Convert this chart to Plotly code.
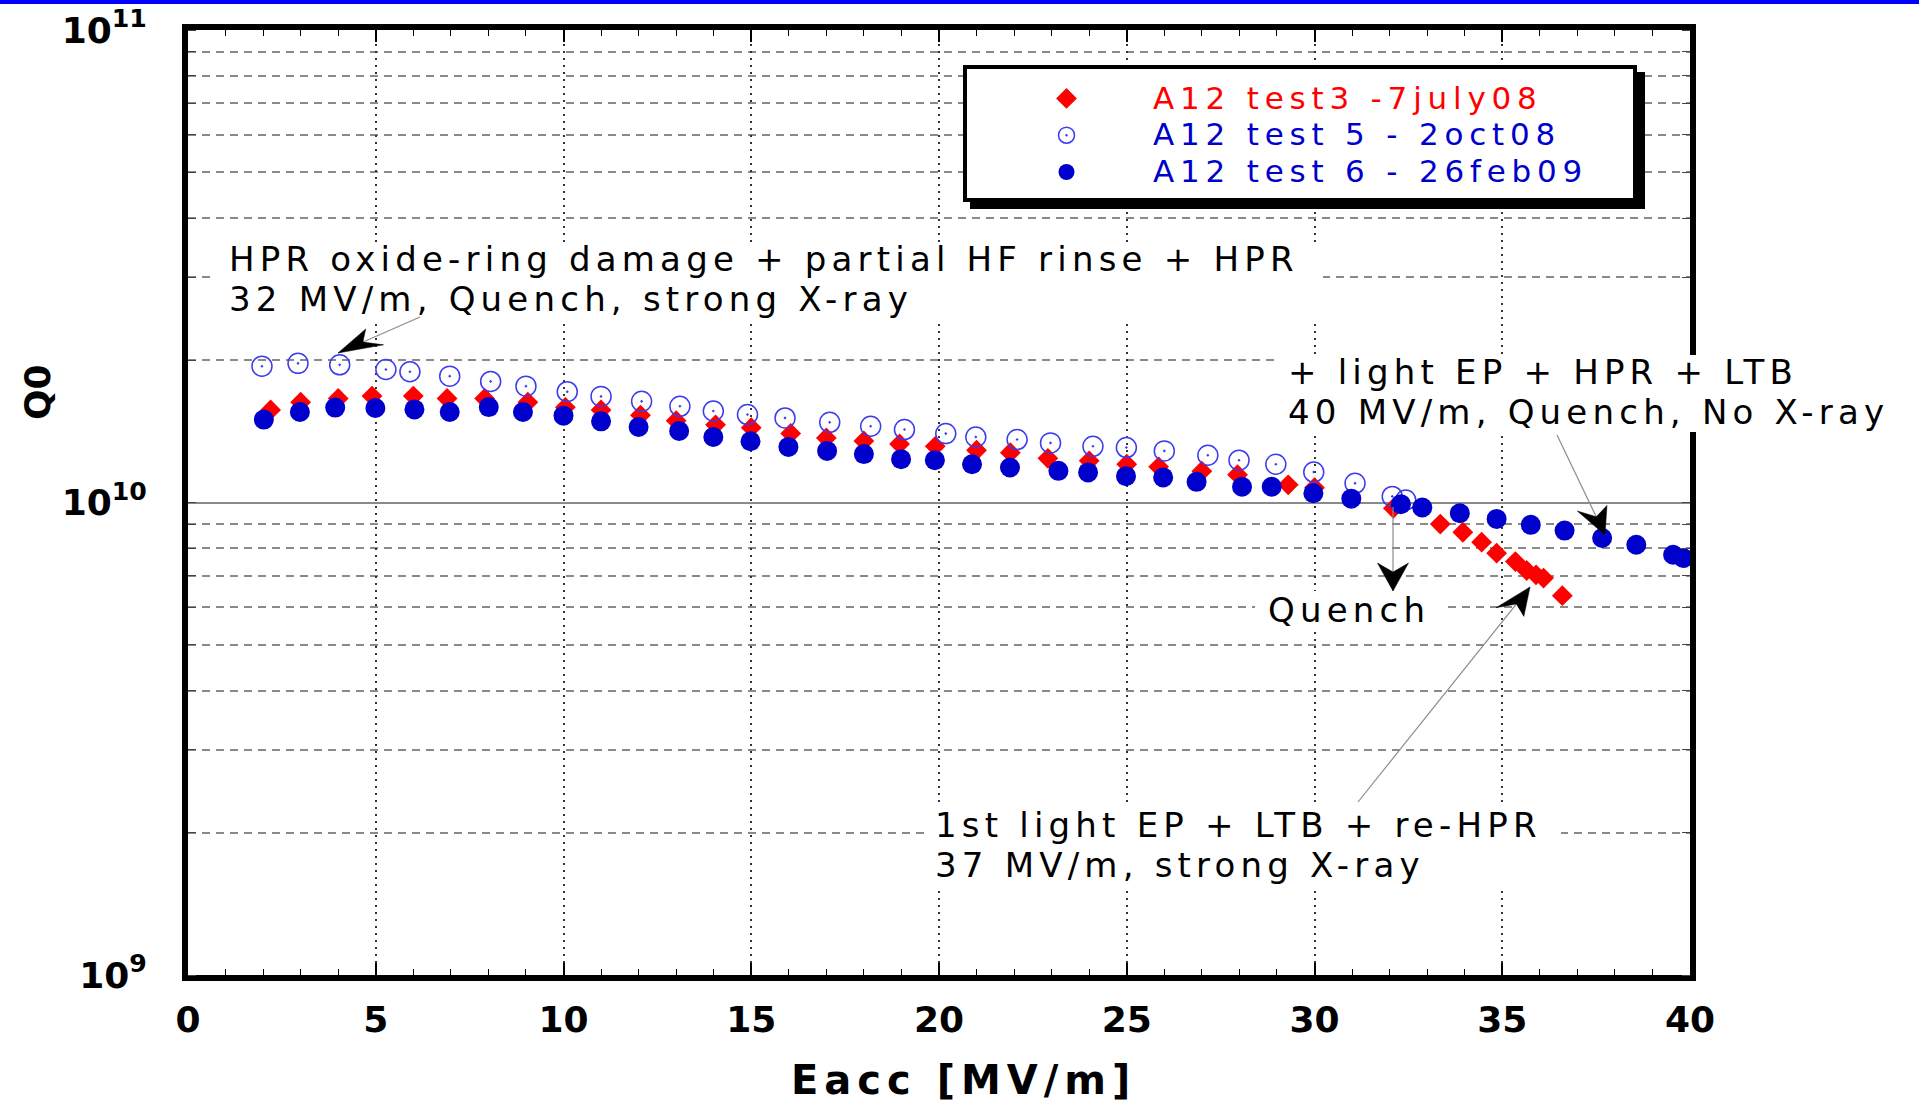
import math
import plotly.graph_objects as go

# ---------------- data ----------------
E_test3 = [2.2, 3.0, 4.0, 4.9, 6.0, 6.9, 7.9, 9.05, 10.05, 11.0, 12.05, 13.0, 14.05, 15.0,
           16.05, 17.0, 18.0, 18.95, 19.9, 21.0, 21.9, 22.9, 24.0, 25.0, 25.85, 27.0, 27.95,
           29.3, 30.0, 32.1, 33.35, 33.95, 34.45, 34.85, 35.35, 35.65, 35.9, 36.1, 36.6]
Q_test3 = [1.57e10, 1.63e10, 1.66e10, 1.68e10, 1.68e10, 1.66e10, 1.66e10, 1.63e10, 1.59e10,
           1.57e10, 1.53e10, 1.49e10, 1.46e10, 1.44e10, 1.40e10, 1.37e10, 1.35e10, 1.33e10,
           1.315e10, 1.29e10, 1.275e10, 1.24e10, 1.225e10, 1.205e10, 1.19e10, 1.165e10,
           1.145e10, 1.09e10, 1.075e10, 9.72e9, 9.0e9, 8.65e9, 8.24e9, 7.81e9, 7.5e9, 7.18e9,
           7.03e9, 6.92e9, 6.35e9]

E_test5 = [1.97, 2.93, 4.04, 5.27, 5.91, 6.97, 8.06, 9.0, 10.1, 11.0, 12.08, 13.1, 13.99,
           14.9, 15.9, 17.09, 18.18, 19.08, 20.18, 20.98, 22.08, 22.97, 24.1, 24.99, 26.0,
           27.16, 27.99, 28.97, 29.98, 31.08, 32.07, 32.43]
Q_test5 = [1.943e10, 1.97e10, 1.956e10, 1.912e10, 1.891e10, 1.851e10, 1.804e10, 1.763e10,
           1.716e10, 1.677e10, 1.637e10, 1.598e10, 1.562e10, 1.535e10, 1.51e10, 1.478e10,
           1.45e10, 1.427e10, 1.399e10, 1.376e10, 1.359e10, 1.337e10, 1.315e10, 1.307e10,
           1.286e10, 1.259e10, 1.229e10, 1.205e10, 1.16e10, 1.098e10, 1.03e10, 1.012e10]

E_test6 = [2.02, 2.98, 3.92, 4.99, 6.03, 6.97, 8.01, 8.92, 10.0, 11.0, 12.0, 13.08, 13.99,
           14.98, 15.99, 17.02, 18.0, 18.99, 19.89, 20.88, 21.89, 23.18, 23.97, 24.98, 25.97,
           26.86, 28.07, 28.86, 29.97, 30.98, 32.3, 32.87, 33.87, 34.85, 35.76, 36.66, 37.66,
           38.57, 39.55, 39.82]
Q_test6 = [1.498e10, 1.554e10, 1.588e10, 1.585e10, 1.574e10, 1.554e10, 1.592e10, 1.554e10,
           1.527e10, 1.485e10, 1.445e10, 1.417e10, 1.376e10, 1.348e10, 1.311e10, 1.286e10,
           1.266e10, 1.235e10, 1.229e10, 1.205e10, 1.186e10, 1.167e10, 1.158e10, 1.137e10,
           1.13e10, 1.106e10, 1.08e10, 1.08e10, 1.046e10, 1.019e10, 9.92e9, 9.76e9, 9.49e9,
           9.23e9, 8.97e9, 8.72e9, 8.41e9, 8.14e9, 7.75e9, 7.63e9]

series_names = ["A12 test3 -7july08", "A12 test 5 - 2oct08", "A12 test 6 - 26feb09"]
x_tickvals = [0, 5, 10, 15, 20, 25, 30, 35, 40]
y_tickvals = [1e9, 1e10, 1e11]
y_ticktext = ["10<sup>9</sup>", "10<sup>10</sup>", "10<sup>11</sup>"]
x_title = "Eacc [MV/m]"
y_title = "Q0"
notes = [
    ["HPR oxide-ring damage + partial HF rinse + HPR", "32 MV/m, Quench, strong X-ray"],
    ["+ light EP + HPR + LTB", "40 MV/m, Quench, No X-ray"],
    ["Quench"],
    ["1st light EP + LTB + re-HPR", "37 MV/m, strong X-ray"],
]

# ---------------- layout helpers ----------------
W, H = 1919, 1102
PL, PR, PT, PB = 188, 1690, 30, 975
FONT = "DejaVu Sans"
RED = "#ff0000"
BLUE = "#0000cc"
OPEN_BLUE = "#3b3bf0"


def fx(p):
    return (p - PL) / (PR - PL)


def fy(p):
    return (PB - p) / (PB - PT)


def styled(text, ls, size=None, color=None):
    st = []
    if color:
        st.append("color:%s" % color)
    if size:
        st.append("font-size:%gpx" % size)
    st.append("letter-spacing:%gpx" % ls)
    return '<span style="%s">%s</span>' % (";".join(st), text)


fig = go.Figure()
fig.add_trace(go.Scatter(
    x=E_test3, y=Q_test3, mode="markers",
    name=styled(series_names[0], 5.8, 31, RED),
    marker=dict(symbol="diamond", size=16, color=RED, line=dict(width=0)),
))
fig.add_trace(go.Scatter(
    x=E_test5, y=Q_test5, mode="markers",
    name=styled(series_names[1], 5.8, 31, BLUE),
    marker=dict(symbol="circle-open-dot", size=20, color=OPEN_BLUE, line=dict(width=1.5)),
))
fig.add_trace(go.Scatter(
    x=E_test6, y=Q_test6, mode="markers",
    name=styled(series_names[2], 5.8, 31, BLUE),
    marker=dict(symbol="circle", size=20, color=BLUE, line=dict(width=0)),
))

tickfont = dict(family=FONT, size=36, color="black", weight="bold")

fig.update_xaxes(
    range=[0, 40], tickmode="array", tickvals=x_tickvals, automargin=False,
    ticks="inside", ticklen=12, tickwidth=1.5, tickcolor="black",
    showline=True, linewidth=6, linecolor="black", mirror="ticks",
    showgrid=True, gridcolor="#333333", gridwidth=1.5, griddash="2px,5px",
    zeroline=False, tickfont=tickfont, ticklabelstandoff=8,
    minor=dict(dtick=1, ticks="inside", ticklen=6, tickwidth=1.2, tickcolor="black", showgrid=False),
)
fig.update_yaxes(
    type="log", range=[9, 11], tickmode="array", tickvals=y_tickvals, ticktext=y_ticktext,
    automargin=False,
    ticks="", showline=True, linewidth=6, linecolor="black", mirror="ticks",
    showgrid=True, gridcolor="#8a8a8a", gridwidth=1.5,
    zeroline=False, tickfont=tickfont, ticklabelstandoff=28,
    minor=dict(dtick="D1", ticks="inside", ticklen=8, tickwidth=1.2, tickcolor="#444444",
               showgrid=True, gridcolor="#8a8a8a", gridwidth=1.5, griddash="8px,6px"),
)

annotations = []
shapes = [
    # blue strip at the very top of the slide
    dict(type="rect", xref="paper", yref="paper", x0=fx(0), x1=fx(W), y0=fy(4), y1=fy(0),
         fillcolor="#0000ff", line=dict(width=0), layer="above"),
    # legend shadow and frame
    dict(type="rect", xref="paper", yref="paper", x0=fx(970), x1=fx(1645), y0=fy(209), y1=fy(72),
         fillcolor="black", line=dict(width=0), layer="above"),
    dict(type="rect", xref="paper", yref="paper", x0=fx(965), x1=fx(1635), y0=fy(200), y1=fy(67),
         fillcolor="white", line=dict(color="black", width=4), layer="above"),
]


def text_note(lines, left, cy, box, size=34, ls=5.2):
    # white patch behind the note (hides grid / frame like the reference)
    x0, x1, y0, y1 = box
    shapes.append(dict(type="rect", xref="paper", yref="paper", x0=fx(x0), x1=fx(x1),
                       y0=fy(y1), y1=fy(y0), fillcolor="white", line=dict(width=0), layer="above"))
    # base font 31 gives a line pitch of ~40 px, glyphs drawn a little larger
    annotations.append(dict(
        x=fx(left), y=fy(cy), xref="paper", yref="paper", xanchor="left", yanchor="middle",
        align="left", text="<br>".join(styled(t, ls, size) for t in lines), showarrow=False,
        font=dict(family=FONT, size=31, color="black"),
    ))


STRETCH = 1.6  # the reference picture is stretched horizontally


def arrow(tipx, tipy, tailx, taily, length=28, half=9.7, notch=9):
    # thin grey shaft
    shapes.append(dict(type="line", xref="paper", yref="paper",
                       x0=fx(tailx), y0=fy(taily), x1=fx(tipx), y1=fy(tipy),
                       line=dict(color="#8c8c8c", width=1.2), layer="above"))
    # black barbed head (built unstretched, then stretched like the reference)
    ux, uy = (tailx - tipx) / STRETCH, (taily - tipy)
    L = math.hypot(ux, uy)
    ux, uy = ux / L, uy / L
    nx, ny = -uy, ux
    pts = [(0, 0),
           (length * ux + half * nx, length * uy + half * ny),
           ((length - notch) * ux, (length - notch) * uy),
           (length * ux - half * nx, length * uy - half * ny)]
    path = "M " + " L ".join("%.5f,%.5f" % (fx(tipx + px * STRETCH), fy(tipy + py)) for px, py in pts) + " Z"
    shapes.append(dict(type="path", xref="paper", yref="paper", path=path,
                       fillcolor="black", line=dict(color="black", width=0.5), layer="above"))


text_note(notes[0], 227, 279, (214, 1323, 243, 320))
text_note(notes[1], 1286, 392, (1280, 1919, 355, 432))
text_note(notes[2], 1266, 610, (1255, 1447, 591, 632))
text_note(notes[3], 933, 845, (927, 1561, 807, 887))

arrow(338, 353, 420, 317)
arrow(1605, 535, 1557, 435)
arrow(1393, 591, 1393, 507)
arrow(1530, 587, 1358, 802)

# axis titles (placed like the reference: y title sits above the centre)
annotations.append(dict(
    x=fx(37), y=fy(392), xref="paper", yref="paper", xanchor="center", yanchor="middle",
    text=y_title, textangle=-90, showarrow=False,
    font=dict(family=FONT, size=36, color="black", weight="bold"),
))
annotations.append(dict(
    x=fx(963), y=fy(1080), xref="paper", yref="paper", xanchor="center", yanchor="middle",
    text=styled(x_title, 6), showarrow=False,
    font=dict(family=FONT, size=40, color="black", weight="bold"),
))

fig.update_layout(
    width=W, height=H, autosize=False,
    margin=dict(l=PL, r=W - PR, t=PT, b=H - PB, pad=0),
    paper_bgcolor="white", plot_bgcolor="white",
    showlegend=True,
    legend=dict(
        x=fx(980), y=fy(75), xanchor="left", yanchor="top",
        bgcolor="rgba(0,0,0,0)", borderwidth=0, itemwidth=163,
        font=dict(family=FONT, size=26, color="black"), tracegroupgap=0,
    ),
    annotations=annotations, shapes=shapes,
)

fig.write_html("out.html")
